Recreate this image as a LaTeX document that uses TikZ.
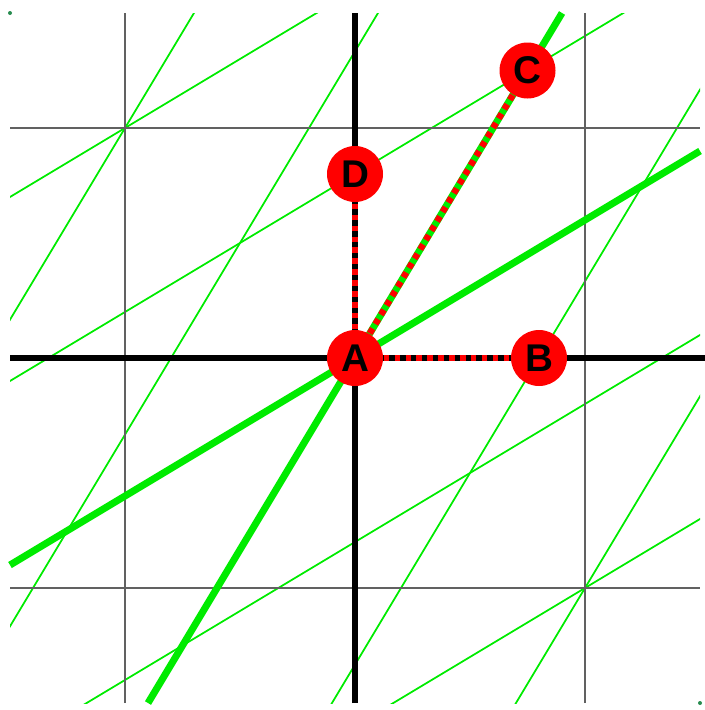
\documentclass[tikz,border=0pt]{standalone}
\usepackage{fontspec}
\setmainfont{Liberation Sans}

\definecolor{lgreen}{RGB}{0,235,0}
\definecolor{dotgreen}{RGB}{40,140,80}

\begin{document}
\begin{tikzpicture}[x=2.3cm,y=2.3cm,
  gridline/.style={black!62,line width=0.75pt},
  axis/.style={black,line width=1.7pt},
  thin green/.style={lgreen,line width=0.5pt},
  thick green/.style={lgreen,line width=2pt},
  point/.style={circle,fill=red,minimum size=5.6mm,inner sep=0pt,
    font=\fontsize{11}{11}\selectfont\bfseries},
  link/.style={red,line width=1.8pt,dash pattern=on 1.6pt off 1.5pt}
]
  \useasboundingbox (-1.5435,-1.5304) rectangle (1.5174,1.5565);

  % skewed lattice
  \begin{scope}
    \clip (-1.5,-1.5) rectangle (1.5,1.5);
    \foreach \d in {-8,-4,4,8} {
      \draw[thin green] ({\d/5-1.2},-2) -- ({\d/5+1.2},2);
      \draw[thin green] (-2,{-\d/5-1.2}) -- (2,{-\d/5+1.2});
    }
  \end{scope}

  % square grid
  \foreach \k in {-1,1} {
    \draw[gridline] (\k,-1.5) -- (\k,1.5);
    \draw[gridline] (-1.5,\k) -- (1.5,\k);
  }
  \draw[axis] (0,-1.5) -- (0,1.5);
  \draw[axis] (-1.5,0) -- (1.52,0);

  \draw[thick green] (-0.9,-1.5) -- (0.9,1.5);
  \draw[thick green] (-1.5,-0.9) -- (1.5,0.9);

  \fill[dotgreen] (-1.5,1.5) circle (0.2mm) (1.5,-1.5) circle (0.2mm);

  \node[point] (A) at (0,0) {A};
  \node[point] (B) at (0.8,0) {B};
  \node[point] (C) at (0.75,1.25) {C};
  \node[point] (D) at (0,0.8) {D};

  \draw[link] (A) -- (B);
  \draw[link] (A) -- (C);
  \draw[link] (A) -- (D);
\end{tikzpicture}
\end{document}
